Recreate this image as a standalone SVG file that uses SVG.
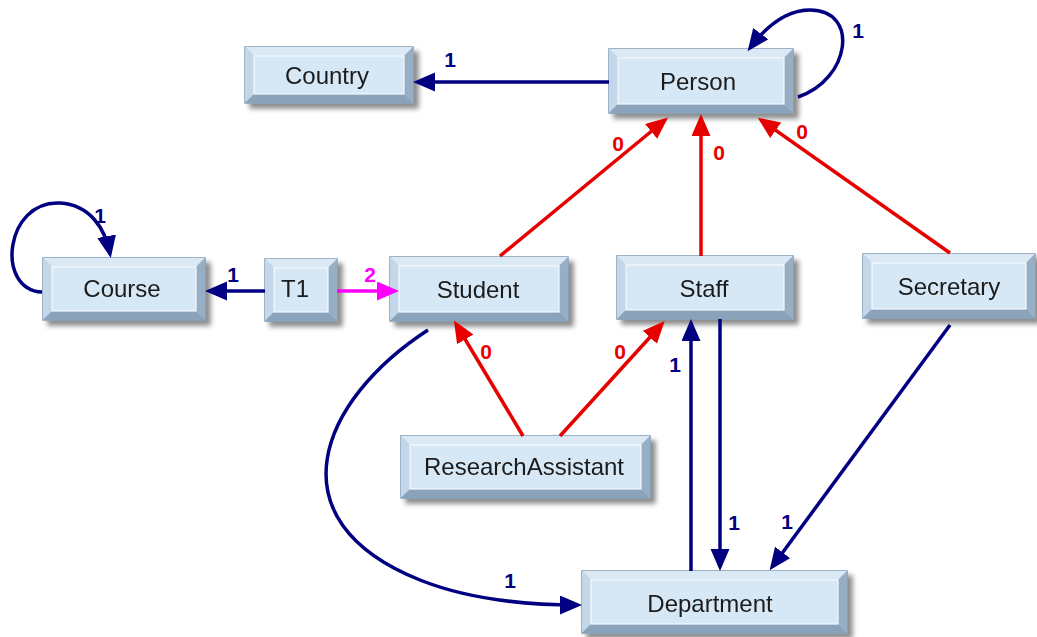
<svg xmlns="http://www.w3.org/2000/svg" width="1037" height="637" viewBox="0 0 1037 637">
<style>
.o{fill:#a9c0d4;stroke:#7f9cb6;stroke-width:1.5}
.t{fill:#dbe9f5}
.l{fill:#c3d7e8}
.r{fill:#97afc5}
.b{fill:#8aa3ba}
.f{fill:#d6e8f5;stroke:#f4f9fd;stroke-width:1.2}
.nt{font-family:"Liberation Sans",Arial,sans-serif;font-size:24px;fill:#1a1a1a;text-anchor:middle}
.lb{font-family:"Liberation Sans",Arial,sans-serif;font-size:21px;font-weight:bold;text-anchor:middle}
.nv{stroke:#000080;fill:none;stroke-width:3.5}
.rd{stroke:#e60000;fill:none;stroke-width:3.5}
.mg{stroke:#ff00ff;fill:none;stroke-width:3.5}
.ln{fill:#000080}.lr{fill:#e60000}.lm{fill:#ff00ff}
</style>
<defs>
<filter id="sh" x="-10%" y="-20%" width="130%" height="160%">
<feDropShadow dx="5" dy="5" stdDeviation="2.5" flood-color="#000" flood-opacity="0.45"/>
</filter>
<marker id="an" markerUnits="userSpaceOnUse" markerWidth="24" markerHeight="20" refX="18" refY="9.5" orient="auto"><path d="M0,0 L22,9.5 L0,19 z" fill="#000080"/></marker>
<marker id="ar" markerUnits="userSpaceOnUse" markerWidth="24" markerHeight="20" refX="18" refY="9.5" orient="auto"><path d="M0,0 L22,9.5 L0,19 z" fill="#e60000"/></marker>
<marker id="am" markerUnits="userSpaceOnUse" markerWidth="24" markerHeight="20" refX="18" refY="9.5" orient="auto"><path d="M0,0 L22,9.5 L0,19 z" fill="#ff00ff"/></marker>
</defs>

<g id="country" filter="url(#sh)">
<rect class="o" x="245" y="47" width="168" height="56"/>
<polygon class="t" points="245,47 413,47 404,56 254,56"/>
<polygon class="l" points="245,47 254,56 254,94 245,103"/>
<polygon class="r" points="413,47 404,56 404,94 413,103"/>
<polygon class="b" points="245,103 413,103 404,94 254,94"/>
<rect class="f" x="254" y="56" width="150" height="38"/>
<text class="nt" x="327" y="84">Country</text>
</g>

<g id="person" filter="url(#sh)">
<rect class="o" x="609" y="49" width="184" height="64"/>
<polygon class="t" points="609,49 793,49 784,58 618,58"/>
<polygon class="l" points="609,49 618,58 618,104 609,113"/>
<polygon class="r" points="793,49 784,58 784,104 793,113"/>
<polygon class="b" points="609,113 793,113 784,104 618,104"/>
<rect class="f" x="618" y="58" width="166" height="46"/>
<text class="nt" x="698" y="90">Person</text>
</g>

<g id="course" filter="url(#sh)">
<rect class="o" x="43" y="258" width="162" height="62"/>
<polygon class="t" points="43,258 205,258 196,267 52,267"/>
<polygon class="l" points="43,258 52,267 52,311 43,320"/>
<polygon class="r" points="205,258 196,267 196,311 205,320"/>
<polygon class="b" points="43,320 205,320 196,311 52,311"/>
<rect class="f" x="52" y="267" width="144" height="44"/>
<text class="nt" x="122" y="297">Course</text>
</g>

<g id="t1" filter="url(#sh)">
<rect class="o" x="265" y="259" width="72" height="62"/>
<polygon class="t" points="265,259 337,259 328,268 274,268"/>
<polygon class="l" points="265,259 274,268 274,312 265,321"/>
<polygon class="r" points="337,259 328,268 328,312 337,321"/>
<polygon class="b" points="265,321 337,321 328,312 274,312"/>
<rect class="f" x="274" y="268" width="54" height="44"/>
<text class="nt" x="295" y="297">T1</text>
</g>

<g id="student" filter="url(#sh)">
<rect class="o" x="390" y="257" width="178" height="64"/>
<polygon class="t" points="390,257 568,257 559,266 399,266"/>
<polygon class="l" points="390,257 399,266 399,312 390,321"/>
<polygon class="r" points="568,257 559,266 559,312 568,321"/>
<polygon class="b" points="390,321 568,321 559,312 399,312"/>
<rect class="f" x="399" y="266" width="160" height="46"/>
<text class="nt" x="478" y="298">Student</text>
</g>

<g id="staff" filter="url(#sh)">
<rect class="o" x="617" y="256" width="176" height="63"/>
<polygon class="t" points="617,256 793,256 784,265 626,265"/>
<polygon class="l" points="617,256 626,265 626,310 617,319"/>
<polygon class="r" points="793,256 784,265 784,310 793,319"/>
<polygon class="b" points="617,319 793,319 784,310 626,310"/>
<rect class="f" x="626" y="265" width="158" height="45"/>
<text class="nt" x="704" y="297">Staff</text>
</g>

<g id="secretary" filter="url(#sh)">
<rect class="o" x="863" y="254" width="172" height="64"/>
<polygon class="t" points="863,254 1035,254 1026,263 872,263"/>
<polygon class="l" points="863,254 872,263 872,309 863,318"/>
<polygon class="r" points="1035,254 1026,263 1026,309 1035,318"/>
<polygon class="b" points="863,318 1035,318 1026,309 872,309"/>
<rect class="f" x="872" y="263" width="154" height="46"/>
<text class="nt" x="949" y="295">Secretary</text>
</g>

<g id="researchassistant" filter="url(#sh)">
<rect class="o" x="401" y="436" width="249" height="62"/>
<polygon class="t" points="401,436 650,436 641,445 410,445"/>
<polygon class="l" points="401,436 410,445 410,489 401,498"/>
<polygon class="r" points="650,436 641,445 641,489 650,498"/>
<polygon class="b" points="401,498 650,498 641,489 410,489"/>
<rect class="f" x="410" y="445" width="231" height="44"/>
<text class="nt" x="524" y="475">ResearchAssistant</text>
</g>

<g id="department" filter="url(#sh)">
<rect class="o" x="582" y="571" width="265" height="62"/>
<polygon class="t" points="582,571 847,571 838,580 591,580"/>
<polygon class="l" points="582,571 591,580 591,624 582,633"/>
<polygon class="r" points="847,571 838,580 838,624 847,633"/>
<polygon class="b" points="582,633 847,633 838,624 591,624"/>
<rect class="f" x="591" y="580" width="247" height="44"/>
<text class="nt" x="710" y="612">Department</text>
</g>

<g id="connectors">
<path class="nv" d="M609,82 L417,82" marker-end="url(#an)"/>
<path class="nv" d="M798,97 C850,80 860,10 810,10 C785,10 765,28 750,48" marker-end="url(#an)"/>
<path class="rd" d="M500,256 L665,120" marker-end="url(#ar)"/>
<path class="rd" d="M701,256 L701,118" marker-end="url(#ar)"/>
<path class="rd" d="M950,253 L761,120" marker-end="url(#ar)"/>
<path class="nv" d="M265,291 L209,291" marker-end="url(#an)"/>
<path class="mg" d="M337,291 L395,291" marker-end="url(#am)"/>
<path class="nv" d="M42,292 C-5,290 5,200 60,203 C90,205 105,228 110,254" marker-end="url(#an)"/>
<path class="nv" d="M428,330 C320,400 270,520 420,580 C470,600 530,605 578,605" marker-end="url(#an)"/>
<path class="rd" d="M523,436 L456,324" marker-end="url(#ar)"/>
<path class="rd" d="M560,436 L662,324" marker-end="url(#ar)"/>
<path class="nv" d="M691,571 L691,323" marker-end="url(#an)"/>
<path class="nv" d="M720,319 L720,567" marker-end="url(#an)"/>
<path class="nv" d="M950,325 L772,567" marker-end="url(#an)"/>
<text class="lb ln" x="450" y="67">1</text>
<text class="lb ln" x="858" y="38">1</text>
<text class="lb lr" x="618" y="151">0</text>
<text class="lb lr" x="719" y="160">0</text>
<text class="lb lr" x="802" y="139">0</text>
<text class="lb ln" x="100" y="223">1</text>
<text class="lb ln" x="233" y="282">1</text>
<text class="lb lm" x="370" y="282">2</text>
<text class="lb lr" x="486" y="359">0</text>
<text class="lb lr" x="620" y="359">0</text>
<text class="lb ln" x="675" y="372">1</text>
<text class="lb ln" x="734" y="530">1</text>
<text class="lb ln" x="787" y="529">1</text>
<text class="lb ln" x="510" y="588">1</text>
</g>
</svg>
